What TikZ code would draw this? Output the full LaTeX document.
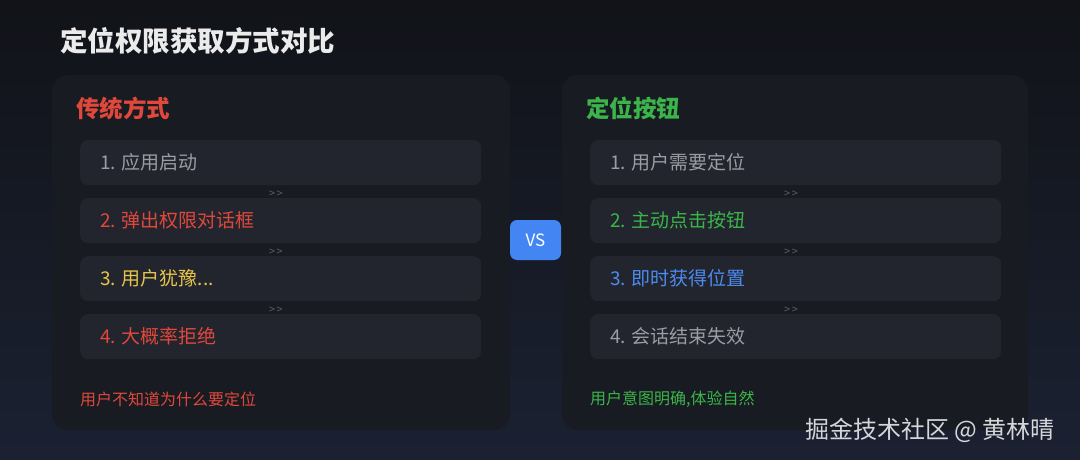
\documentclass[tikz,border=0pt]{standalone}
\usepackage{fontspec}
\setmainfont{Noto Sans CJK SC}
\usetikzlibrary{positioning}
\definecolor{bgtop}{HTML}{111318}
\definecolor{bgbot}{HTML}{1B2132}
\definecolor{panel}{HTML}{181B22}
\definecolor{stepfill}{HTML}{22252D}
\definecolor{cred}{HTML}{E0483B}
\definecolor{cgreen}{HTML}{3BB54A}
\definecolor{cgray}{HTML}{9A9DA3}
\definecolor{cyellow}{HTML}{E8C64A}
\definecolor{cblue}{HTML}{4C8BF0}
\definecolor{vsblue}{HTML}{4386F3}
\definecolor{arrowgray}{HTML}{5A5E66}
\definecolor{wm}{HTML}{D4D6DA}
\newcommand{\nsp}{\hspace{0.3em}}
\newcommand{\chev}{>\hspace{1.5pt}>}
\tikzset{
  panelbox/.style={fill=panel, rounded corners=16pt, draw=none},
  stepbox/.style={fill=stepfill, rounded corners=8pt, anchor=north west,
    minimum height=45pt, text width=#1, align=left, inner xsep=20pt, inner ysep=0pt,
    font=\fontsize{19}{22}\selectfont},
  sep/.style={text=arrowgray, font=\fontsize{11}{12}\selectfont, inner sep=0pt},
  ptitle/.style={anchor=west, inner sep=0pt, font=\fontsize{23.5}{27}\selectfont\bfseries},
  foot/.style={anchor=west, inner sep=0pt, font=\fontsize{16}{18}\selectfont},
}
\begin{document}
\begin{tikzpicture}[x=1pt,y=-1pt]
\shade[top color=bgtop, bottom color=bgbot] (0,0) rectangle (1080,460);
\useasboundingbox (0,0) rectangle (1080,460);
\node[anchor=west, inner sep=0pt, text=white!92!black, font=\fontsize{27.5}{30}\selectfont\bfseries] (title) at (60,41) {定位权限获取方式对比};
% left panel
\fill[panelbox] (52,75) rectangle (510,430);
\node[ptitle, text=cred] (lt) at (76,108) {传统方式};
\node[stepbox=361pt, text=cgray] (l1) at (80,140) {1.\nsp 应用启动};
\node[stepbox=361pt, text=cred] (l2) at (80,198) {2.\nsp 弹出权限对话框};
\node[stepbox=361pt, text=cyellow] (l3) at (80,256) {3.\nsp 用户犹豫...};
\node[stepbox=361pt, text=cred] (l4) at (80,314) {4.\nsp 大概率拒绝};
\node[sep] (la1) at (276,194) {\chev};
\node[sep] (la2) at (276,252) {\chev};
\node[sep] (la3) at (276,310) {\chev};
\node[foot, text=cred] (lf) at (80,399) {用户不知道为什么要定位};
% right panel
\fill[panelbox] (562,75) rectangle (1028,430);
\node[ptitle, text=cgreen] (rt) at (586,108) {定位按钮};
\node[stepbox=371pt, text=cgray] (r1) at (590,140) {1.\nsp 用户需要定位};
\node[stepbox=371pt, text=cgreen] (r2) at (590,198) {2.\nsp 主动点击按钮};
\node[stepbox=371pt, text=cblue] (r3) at (590,256) {3.\nsp 即时获得位置};
\node[stepbox=371pt, text=cgray] (r4) at (590,314) {4.\nsp 会话结束失效};
\node[sep] (ra1) at (791,194) {\chev};
\node[sep] (ra2) at (791,252) {\chev};
\node[sep] (ra3) at (791,310) {\chev};
\node[foot, text=cgreen] (rf) at (590,399) {用户意图明确,体验自然};
% VS
\node[fill=vsblue, rounded corners=7pt, minimum width=51pt, minimum height=40pt, inner sep=0pt, text=white, font=\fontsize{17}{18}\selectfont] (vs) at (535.5,240) {VS};
% watermark
\node[anchor=west, inner sep=0pt, text=wm, font=\fontsize{24}{27}\selectfont] (wmk) at (805,430) {掘金技术社区 @ 黄林晴};
\end{tikzpicture}
\end{document}
